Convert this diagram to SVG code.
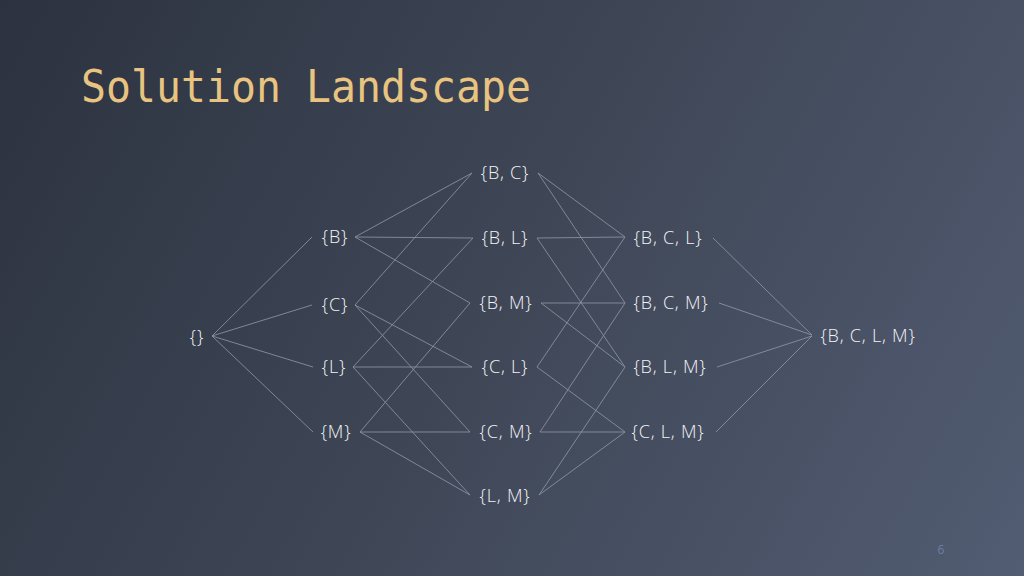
<svg xmlns="http://www.w3.org/2000/svg" width="1024" height="576" viewBox="0 0 1024 576">
<defs>
<linearGradient id="bg" x1="0" y1="0" x2="1024" y2="576" gradientUnits="userSpaceOnUse">
<stop offset="0" stop-color="#2c323f"/>
<stop offset="0.5" stop-color="#3f4757"/>
<stop offset="1" stop-color="#525c72"/>
</linearGradient>
<style>
.n{font-family:"Open Sans","Liberation Sans",sans-serif;font-weight:300;font-size:18px;fill:#f2f3f6;text-anchor:middle;letter-spacing:0.8px}
.e line{stroke:#8c94a3;stroke-width:1;stroke-opacity:0.85}
.title{font-family:"DejaVu Sans Mono","Liberation Mono",monospace;font-size:44px;fill:#e8c480}
.pg{font-family:"Open Sans","Liberation Sans",sans-serif;font-size:12px;fill:#6d7ea3;text-anchor:middle}
</style>
</defs>
<rect width="1024" height="576" fill="url(#bg)"/>
<text class="title" x="81" y="102" textLength="450" lengthAdjust="spacingAndGlyphs">Solution Landscape</text>
<g id="connectors" class="e">
<line x1="212" y1="336" x2="312" y2="237"/>
<line x1="212" y1="336" x2="312" y2="305"/>
<line x1="212" y1="336" x2="313" y2="367"/>
<line x1="212" y1="336" x2="313" y2="432"/>
<line x1="355" y1="237" x2="472" y2="173"/>
<line x1="355" y1="237" x2="473" y2="238"/>
<line x1="355" y1="237" x2="470" y2="303"/>
<line x1="355" y1="305" x2="472" y2="173"/>
<line x1="355" y1="305" x2="472" y2="367"/>
<line x1="355" y1="305" x2="470" y2="432"/>
<line x1="353" y1="367" x2="473" y2="238"/>
<line x1="353" y1="367" x2="472" y2="367"/>
<line x1="353" y1="367" x2="470" y2="495"/>
<line x1="360" y1="432" x2="470" y2="303"/>
<line x1="360" y1="432" x2="470" y2="432"/>
<line x1="360" y1="432" x2="470" y2="495"/>
<line x1="538" y1="173" x2="625" y2="237"/>
<line x1="538" y1="173" x2="625" y2="303"/>
<line x1="537" y1="238" x2="625" y2="237"/>
<line x1="537" y1="238" x2="625" y2="367"/>
<line x1="541" y1="303" x2="625" y2="303"/>
<line x1="541" y1="303" x2="625" y2="367"/>
<line x1="537" y1="367" x2="625" y2="237"/>
<line x1="537" y1="367" x2="625" y2="432"/>
<line x1="540" y1="432" x2="625" y2="303"/>
<line x1="540" y1="432" x2="625" y2="432"/>
<line x1="539" y1="495" x2="625" y2="367"/>
<line x1="539" y1="495" x2="625" y2="432"/>
<line x1="713" y1="238" x2="812" y2="335"/>
<line x1="719" y1="303" x2="812" y2="335"/>
<line x1="717" y1="367" x2="812" y2="336"/>
<line x1="716" y1="432" x2="812" y2="336"/>
</g>
<g id="n-empty"><text class="n" x="197" y="343">{}</text></g>
<g id="n-B"><text class="n" x="335" y="243">{B}</text></g>
<g id="n-C"><text class="n" x="335" y="311">{C}</text></g>
<g id="n-L"><text class="n" x="334" y="373">{L}</text></g>
<g id="n-M"><text class="n" x="336" y="438">{M}</text></g>
<g id="n-BC"><text class="n" x="505" y="179">{B, C}</text></g>
<g id="n-BL"><text class="n" x="505" y="244">{B, L}</text></g>
<g id="n-BM"><text class="n" x="506" y="309">{B, M}</text></g>
<g id="n-CL"><text class="n" x="505" y="373">{C, L}</text></g>
<g id="n-CM"><text class="n" x="506" y="438">{C, M}</text></g>
<g id="n-LM"><text class="n" x="505" y="502">{L, M}</text></g>
<g id="n-BCL"><text class="n" x="668" y="244">{B, C, L}</text></g>
<g id="n-BCM"><text class="n" x="671" y="309">{B, C, M}</text></g>
<g id="n-BLM"><text class="n" x="670" y="373">{B, L, M}</text></g>
<g id="n-CLM"><text class="n" x="668" y="438">{C, L, M}</text></g>
<g id="n-BCLM"><text class="n" x="868" y="342">{B, C, L, M}</text></g>
<text class="pg" x="941" y="554">6</text>
</svg>
